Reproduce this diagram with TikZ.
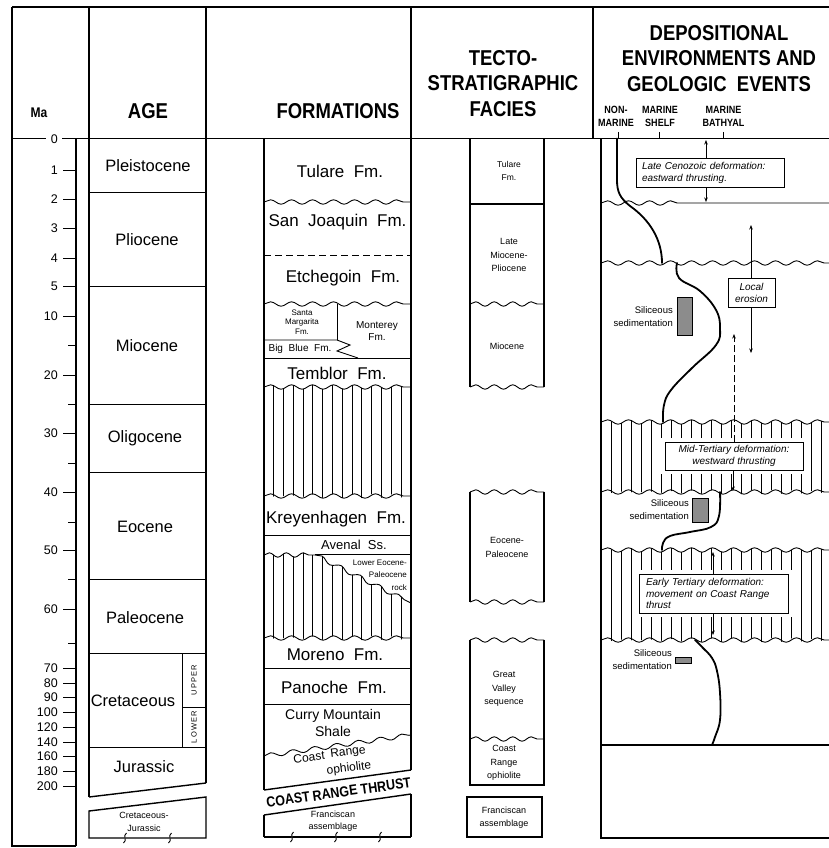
\documentclass[tikz,border=0pt]{standalone}
\usepackage{fontspec}
\setmainfont{Liberation Sans}
\newfontfamily\hdfont[FakeStretch=0.86]{Liberation Sans}
\usetikzlibrary{decorations.pathmorphing,arrows.meta}
\newcommand\fsz[2]{\fontsize{#1}{#2}\selectfont}
\begin{document}
\begin{tikzpicture}[x=1pt,y=-1pt,
  frame/.style={line width=1.4pt},
  thin/.style={line width=0.9pt},
  wv/.style={decoration={snake,segment length=21pt,amplitude=2.2pt}},
  wva/.style={decoration={snake,segment length=17pt,amplitude=2.2pt}},
  wvd/.style={decoration={snake,segment length=21.466pt,amplitude=2.2pt}},
  wvt/.style={decoration={snake,segment length=18.5pt,amplitude=2.2pt}},
  wvc/.style={decoration={snake,segment length=22.1pt,amplitude=2.2pt}},
  hatchl/.style={line width=0.8pt},
  envc/.style={line width=1.8pt,line cap=round},
  arr/.style={line width=0.7pt,-{Stealth[length=4.5pt,width=3.5pt]}},
  hd/.style={font={\hdfont\bfseries\fsz{21.5}{25.7}},align=center,inner sep=0},
  sub/.style={font={\hdfont\bfseries\fsz{10.5}{13}},align=center,inner sep=0},
  manum/.style={font={\fsz{12.5}{14}},anchor=east,inner sep=0},
  agel/.style={font={\fsz{16.5}{18}},inner sep=0},
  fmb/.style={font={\fsz{17}{19}},inner sep=0},
  sm/.style={font={\fsz{9}{13.5}},align=center,inner sep=0},
  itl/.style={font={\itshape\fsz{10}{12}}},
  thr/.style={inner sep=0,font={\hdfont\bfseries\fsz{14.5}{16}},rotate=8},
  oph/.style={inner sep=0,font={\fsz{12}{13}},rotate=7},
  ebox/.style={draw,line width=0.8pt,fill=white,inner sep=0,outer sep=0,
               preaction={draw=white,line width=8pt}},
  stip/.style={draw,line width=0.6pt,fill=black!45},
]
\useasboundingbox (0,0) rectangle (828,848);
\fill[white] (0,0) rectangle (828,848);

% ---------------- outer frame and header
\draw[frame] (12,7) -- (832,7);
\draw[frame] (12,7) -- (12,846) -- (76,846);
\draw[frame] (12,138.5) -- (46,138.5);
\draw[frame] (62,138.5) -- (832,138.5);
\draw[frame] (76,138.5) -- (76,846);
\draw[frame] (89,7) -- (89,797);
\draw[frame] (206,7) -- (206,783);
\draw[frame] (411,7) -- (411,770);
\draw[frame] (411,794) -- (411,837);
\draw[frame] (593,7) -- (593,138.5);

\node[hd,font={\hdfont\bfseries\fsz{14}{16}}] (hma) at (39,113) {Ma};
\node[hd] (hage) at (148,111) {AGE};
\node[hd] (hfm) at (338,111) {FORMATIONS};
\node[hd] (htec) at (503,83.5) {TECTO-\\STRATIGRAPHIC\\FACIES};
\node[hd] (hdep) at (719,58.5) {DEPOSITIONAL\\ENVIRONMENTS AND\\GEOLOGIC\ \ EVENTS};
\node[sub] (hnm) at (616,116.5) {NON-\\MARINE};
\node[sub] (hms) at (660,116.5) {MARINE\\SHELF};
\node[sub] (hmb) at (723.5,116.5) {MARINE\\BATHYAL};
\foreach \x in {618,659,723} \draw[thin] (\x,132) -- (\x,138.5);

% ---------------- Ma scale
\node[manum] (m0) at (58,139) {0};
\foreach \v/\y in {1/170,2/199,3/228,4/258,5/286,10/316,20/375,30/433,40/492,50/550,60/609,70/668,80/683,90/697,100/712,120/727,140/742,160/756,180/771,200/786}{
  \draw[thin] (63,\y) -- (76,\y);
  \node[manum] (m\v) at (58,\y) {\v};
}
\foreach \y in {345,404,463,522,579,643} \draw[thin] (68,\y) -- (76,\y);

% ---------------- AGE column
\foreach \y in {192,286,404,472,579,653,747} \draw[thin] (89,\y) -- (206,\y);
\draw[thin] (182,653) -- (182,747);
\draw[thin] (182,707) -- (206,707);
\draw[frame] (89,797) -- (206,783);
\draw[frame] (89,838) -- (89,811) -- (206,797) -- (206,838) -- cycle;
\foreach \x in {125,170} \draw[thin,fill=white] (\x+1.5,833) .. controls (\x-3,836) and (\x+3,840) .. (\x-1.5,843);
\node[agel] (aple) at (148,166) {Pleistocene};
\node[agel] (aplio) at (147,240) {Pliocene};
\node[agel] (amio) at (147,346) {Miocene};
\node[agel] (aoli) at (145,438) {Oligocene};
\node[agel] (aeoc) at (145,527) {Eocene};
\node[agel] (apal) at (145,618) {Paleocene};
\node[agel] (acre) at (133,701) {Cretaceous};
\node[agel] (ajur) at (144,767) {Jurassic};
\node[sm,font={\fsz{9}{13}}] (acj) at (144,821.5) {Cretaceous-\\Jurassic};
\node[inner sep=0,font={\fsz{7.5}{8}},rotate=90] (aup) at (194,680) {U\,P\,P\,E\,R};
\node[inner sep=0,font={\fsz{7.5}{8}},rotate=90] (alo) at (194,727) {L\,O\,W\,E\,R};

% ---------------- FORMATIONS column
\draw[frame] (264,138.5) -- (264,790);
\draw[frame] (264,815) -- (264,837);
\begin{scope}
  \clip (264,387) decorate[wv]{-- (411,387)} -- (411,496) decorate[wv]{-- (264,496)} -- cycle;
  \foreach \x in {273.5,283.3,...,402} \draw[hatchl] (\x,380) -- (\x,503);
\end{scope}
\begin{scope}
  \clip (264,555) decorate[wva]{-- (315,555)} decorate[wvd]{-- (411,603)} -- (411,638) decorate[wv]{-- (264,638)} -- cycle;
  \foreach \x in {273.5,283.3,...,402} \draw[hatchl] (\x,548) -- (\x,645);
\end{scope}
\draw[thin] (264,202) decorate[wv]{-- (411,202)};
\draw[thin,dash pattern=on 7pt off 4pt] (264,255) -- (411,255);
\draw[thin] (264,304) decorate[wv]{-- (411,304)};
\draw[thin] (337,304) -- (337,340);
\draw[thin] (264,340) -- (337,340) -- (350,345) -- (337,351) -- (358,358);
\draw[thin] (264,358) -- (411,358);
\draw[thin] (264,387) decorate[wv]{-- (411,387)};
\draw[thin] (264,496) decorate[wv]{-- (411,496)};
\draw[thin] (264,535) -- (411,535);
\draw[thin] (264,555) decorate[wva]{-- (315,555)} decorate[wvd]{-- (411,603)};
\draw[thin] (315,554) -- (411,554);
\draw[thin] (264,638) decorate[wv]{-- (411,638)};
\draw[thin] (264,668) -- (411,668);
\draw[thin] (264,704) -- (411,704);
\draw[thin] (264,756) decorate[wvc]{-- (411,735)};
\draw[frame] (264,790) -- (411,770);
\draw[frame] (264,815) -- (411,794);
\draw[frame] (264,837) -- (411,837);
\foreach \x in {292,336,380} \draw[thin,fill=white] (\x+1.5,832) .. controls (\x-3,835) and (\x+3,839) .. (\x-1.5,842);

\node[fmb] (ftul) at (340,171) {Tulare\ \ Fm.};
\node[fmb] (fsj) at (337.5,222) {San\ \ Joaquin\ \ Fm.};
\node[fmb] (fetc) at (343,278) {Etchegoin\ \ Fm.};
\node[sm,font={\fsz{8}{9.5}}] (fsm) at (302,322) {Santa\\Margarita\\Fm.};
\node[sm,font={\fsz{10}{12}}] (fmon) at (377,331) {Monterey\\Fm.};
\node[sm,font={\fsz{10}{12}}] (fbb) at (300,349) {Big\ \ Blue\ \ Fm.};
\node[fmb] (ftem) at (337,373) {Temblor\ \ Fm.};
\node[fmb] (fkre) at (336,519) {Kreyenhagen\ \ Fm.};
\node[sm,font={\fsz{13}{14}}] (fave) at (354,545) {Avenal\ \ Ss.};
\node[sm,font={\fsz{8}{12.5}},align=right,anchor=east] (flow) at (407,575) {Lower Eocene-\\Paleocene\\rock};
\node[fmb] (fmor) at (335,655) {Moreno\ \ Fm.};
\node[fmb] (fpan) at (334,687) {Panoche\ \ Fm.};
\node[sm,font={\fsz{14}{17}}] (fcur) at (333,723) {Curry Mountain\\Shale};
\node[oph] (fcro1) at (309,757.3) {Coast};
\node[oph] (fcro2) at (348,752.5) {Range};
\node[oph] (fcro3) at (349,768.5) {ophiolite};
\node[thr] (fcrt1) at (288,799.6) {COAST};
\node[thr] (fcrt2) at (335,793) {RANGE};
\node[thr] (fcrt3) at (385.8,785.9) {THRUST};
\node[sm,font={\fsz{9}{12}}] (ffra) at (333,821) {Franciscan\\assemblage};

% ---------------- TECTO-STRATIGRAPHIC FACIES column
\draw[frame] (470,138.5) -- (470,387);
\draw[frame] (544,138.5) -- (544,387);
\draw[frame] (470,204) -- (544,204);
\draw[thin] (470,304) decorate[wvt]{-- (544,304)};
\draw[thin] (470,387) decorate[wvt]{-- (544,387)};
\draw[frame] (470,492) -- (470,602);
\draw[frame] (544,492) -- (544,602);
\draw[thin] (470,492) decorate[wvt]{-- (544,492)};
\draw[thin] (470,602) decorate[wvt]{-- (544,602)};
\draw[frame] (470,640) -- (470,785) -- (544,785) -- (544,640);
\draw[thin] (470,640) decorate[wvt]{-- (544,640)};
\draw[thin] (470,739) decorate[wvt]{-- (544,739)};
\draw[frame] (467,797) rectangle (542,837);
\node[sm,font={\fsz{8.5}{13}}] (ttul) at (509,171) {Tulare\\Fm.};
\node[sm] (tlmp) at (509,255) {Late\\Miocene-\\Pliocene};
\node[sm] (tmio) at (507,346) {Miocene};
\node[sm] (teoc) at (507,547.5) {Eocene-\\Paleocene};
\node[sm] (tgv) at (504,689) {Great\\Valley\\sequence};
\node[sm] (tcro) at (504,763) {Coast\\Range\\ophiolite};
\node[sm] (tfra) at (504,817.5) {Franciscan\\assemblage};

% ---------------- DEPOSITIONAL column
\draw[frame] (601,138.5) -- (601,838) -- (832,838);
\begin{scope}
  \clip (601,422) decorate[wv]{-- (832,422)} -- (832,492) decorate[wv]{-- (601,492)} -- cycle;
  \foreach \x in {611,621,...,831} \draw[hatchl] (\x,415) -- (\x,500);
\end{scope}
\begin{scope}
  \clip (601,550) decorate[wv]{-- (832,550)} -- (832,640) decorate[wv]{-- (601,640)} -- cycle;
  \foreach \x in {611,621,...,831} \draw[hatchl] (\x,543) -- (\x,647);
\end{scope}
\draw[thin] (601,203) decorate[wv]{-- (685,203)} -- (832,203);
\draw[thin] (601,263) decorate[wv]{-- (832,263)};
\draw[thin] (601,422) decorate[wv]{-- (832,422)};
\draw[thin] (601,492) decorate[wv]{-- (832,492)};
\draw[thin] (601,550) decorate[wv]{-- (832,550)};
\draw[thin] (601,640) decorate[wv]{-- (832,640)};
\draw[frame] (601,745) -- (832,745);

% environment curve
\draw[envc] (617,138.5) -- (617,180) .. controls (617,192) and (620,198) .. (630,206) .. controls (650,220) and (662,240) .. (662,263);
\draw[envc] plot[smooth,tension=0.7] coordinates {(677,263) (679,278) (700,291) (716,310) (720,328) (716,345) (692,368) (671,390) (664,405) (663,422)};
\draw[envc] plot[smooth,tension=0.7] coordinates {(720,492) (719,516) (711,527) (690,532) (670,536) (663,543) (662,550)};
\draw[envc] plot[smooth,tension=0.7] coordinates {(695,640) (703,648) (712,658) (717,671) (720,693) (720,720) (715,737) (712,745)};

% event boxes
\node[ebox,itl,minimum width=148,minimum height=29,text width=136,align=left] (lcbox) at (710,172.5) {Late Cenozoic deformation:\\eastward thrusting.};
\node[ebox,itl,minimum width=47,minimum height=29,align=center] (lebox) at (751.5,292.5) {Local\\erosion};
\node[ebox,itl,minimum width=138,minimum height=28,align=center] (mtbox) at (734,456) {Mid-Tertiary deformation:\\westward thrusting};
\node[ebox,itl,minimum width=149,minimum height=39,text width=135,align=left,font={\itshape\fsz{10}{11.5}}] (etbox) at (713.5,593.5) {Early Tertiary deformation:\\movement on Coast Range\\thrust};

\coordinate (lcU) at (706,140);
\coordinate (lcD) at (706,202);
\coordinate (leU) at (751,225);
\coordinate (leD) at (751,353);
\coordinate (dsU) at (734,334);
\coordinate (mtD) at (733,491);
\coordinate (etU) at (713,552);
\coordinate (etD) at (713,635);
\draw[arr] (lcbox.north -| lcU) -- (lcU);
\draw[arr] (lcbox.south -| lcD) -- (lcD);
\draw[arr] (lebox.north -| leU) -- (leU);
\draw[arr] (lebox.south -| leD) -- (leD);
\draw[arr,dash pattern=on 7pt off 3pt] (mtbox.north -| dsU) -- (dsU);
\draw[arr] (mtbox.south -| mtD) -- (mtD);
\draw[arr] (etbox.north -| etU) -- (etU);
\draw[arr] (etbox.south -| etD) -- (etD);

% siliceous sedimentation
\node[sm,font={\fsz{9.5}{13}},align=right,anchor=east] (sl1) at (673,316.5) {Siliceous\\sedimentation};
\draw[stip] (677,297) rectangle (692,335);
\node[sm,font={\fsz{9.5}{13}},align=right,anchor=east] (sl2) at (689,510) {Siliceous\\sedimentation};
\draw[stip] (692,498) rectangle (708,522);
\node[sm,font={\fsz{9.5}{13}},align=right,anchor=east] (sl3) at (672,659.5) {Siliceous\\sedimentation};
\draw[stip] (675,657) rectangle (691,663);
\end{tikzpicture}
\end{document}
